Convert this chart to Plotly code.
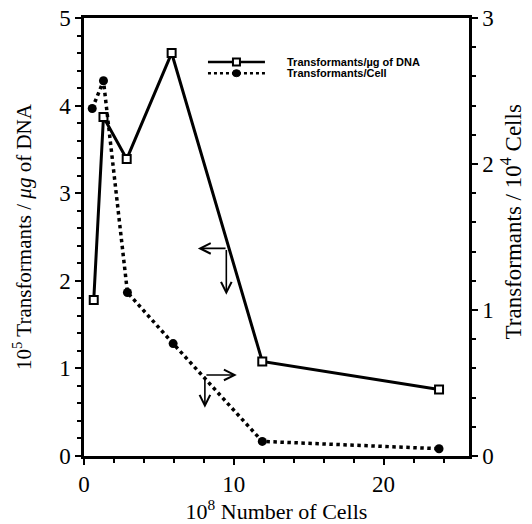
import plotly.graph_objects as go

cells = [0.65, 1.3, 2.85, 5.85, 11.9, 23.7]
per_ug = [1.78, 3.87, 3.39, 4.6, 1.08, 0.76]
cells_dot = [0.55, 1.3, 2.9, 5.95, 11.9, 23.7]
per_cell = [2.38, 2.57, 1.12, 0.77, 0.1, 0.05]
legend_labels = ["Transformants/\u00b5g of DNA", "Transformants/Cell"]

serif = "Liberation Serif"
fig = go.Figure()
fig.add_trace(go.Scatter(
    x=cells, y=per_ug, name=legend_labels[0], mode="lines+markers", showlegend=False,
    line=dict(color="black", width=3),
    marker=dict(symbol="square", size=8, color="white", line=dict(color="black", width=2)),
))
fig.add_trace(go.Scatter(
    x=cells_dot, y=per_cell, name=legend_labels[1], mode="lines+markers", yaxis="y2", showlegend=False,
    line=dict(color="black", width=3.5, dash="dot"),
    marker=dict(symbol="circle", size=9, color="black"),
))

axis_common = dict(showline=True, linecolor="black", linewidth=2.5, ticks="outside",
                   tickcolor="black", tickwidth=2, ticklen=6, showgrid=False, zeroline=False,
                   tickfont=dict(family=serif, size=23, color="black"))
title_font = dict(family=serif, size=21, color="black")

fig.update_layout(
    width=532, height=524, margin=dict(l=84, r=63, t=18, b=68),
    plot_bgcolor="white", paper_bgcolor="white",
    showlegend=False,
    xaxis=dict(range=[0, 25.7], dtick=10, mirror=True,
               minor=dict(dtick=2, ticks="outside", ticklen=4, tickcolor="black", tickwidth=2),
               title=dict(text="10<sup>8</sup> Number of Cells", font=dict(family=serif, size=22, color="black"), standoff=5),
               automargin=False, **axis_common),
    yaxis=dict(range=[0, 5], dtick=1,
               minor=dict(dtick=0.2, ticks="outside", ticklen=4, tickcolor="black", tickwidth=2),
               title=dict(text="10<sup>5</sup> Transformants / <i>\u03bcg</i> of DNA", font=title_font, standoff=22),
               automargin=False, **axis_common),
    yaxis2=dict(range=[0, 3], dtick=1, overlaying="y", side="right",
                minor=dict(dtick=0.2, ticks="outside", ticklen=4, tickcolor="black", tickwidth=2),
                automargin=False, **axis_common),
)

# right axis title (placed slightly above centre, as in the reference)
fig.add_annotation(x=1.11, y=0.534, xref="paper", yref="paper", xanchor="center", yanchor="middle",
                   text="Transformants / 10<sup>4</sup> Cells", textangle=-90, showarrow=False,
                   font=dict(family=serif, size=23, color="black"))

# manual legend (compact, as in the reference)
leg_rows = [0.8995, 0.874]
x0, x1, xm, xt = 0.322, 0.470, 0.396, 0.522
fig.add_shape(type="line", xref="paper", yref="paper", x0=x0, x1=x1, y0=leg_rows[0], y1=leg_rows[0],
              line=dict(color="black", width=2.5))
fig.add_shape(type="line", xref="paper", yref="paper", x0=x0, x1=x1, y0=leg_rows[1], y1=leg_rows[1],
              line=dict(color="black", width=2.5, dash="dot"))
fig.add_shape(type="rect", xref="paper", yref="paper", xsizemode="pixel", ysizemode="pixel",
              xanchor=xm, yanchor=leg_rows[0], x0=-3.5, x1=3.5, y0=-3.5, y1=3.5,
              line=dict(color="black", width=2), fillcolor="white")
fig.add_shape(type="circle", xref="paper", yref="paper", xsizemode="pixel", ysizemode="pixel",
              xanchor=xm, yanchor=leg_rows[1], x0=-4, x1=4, y0=-3.5, y1=3.5,
              line=dict(color="black", width=1), fillcolor="black")
for lab, yy in zip(legend_labels, leg_rows):
    fig.add_annotation(x=xt, y=yy, xref="paper", yref="paper", xanchor="left", yanchor="middle",
                       text="<b>%s</b>" % lab, showarrow=False,
                       font=dict(family="Liberation Sans", size=11, color="black"))

def arrow(xa, ya, xb, yb):
    fig.add_annotation(x=xb, y=yb, ax=xa, ay=ya, xref="x", yref="y", axref="x", ayref="y",
                       showarrow=True, arrowhead=5, arrowsize=1.3, arrowwidth=1.6,
                       arrowcolor="black", text="")

arrow(9.55, 2.37, 7.6, 2.37)
arrow(9.5, 2.37, 9.5, 1.84)
arrow(8.07, 0.925, 10.2, 0.925)
arrow(8.07, 0.925, 8.07, 0.55)

fig.write_html("out.html")
